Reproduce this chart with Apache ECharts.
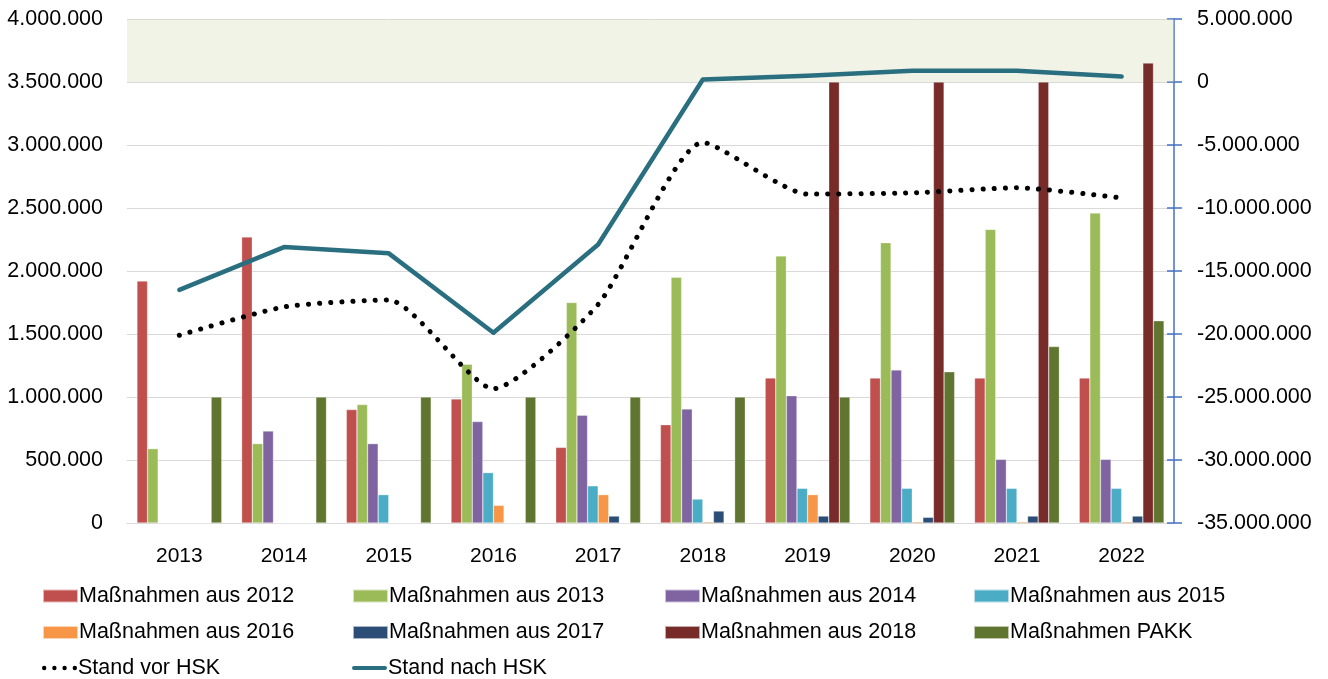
<!DOCTYPE html>
<html>
<head>
<meta charset="utf-8">
<script src="https://cdn.jsdelivr.net/npm/echarts@6/dist/echarts.min.js"></script>
<style>
  html, body { margin: 0; padding: 0; background: #fff; }
  #main { width: 1328px; height: 679px; }
</style>
</head>
<body>
<div id="main"></div>
<script>
var years = ['2013', '2014', '2015', '2016', '2017', '2018', '2019', '2020', '2021', '2022'];

var mass2012 = [1920000, 2270000, 900000, 985000, 600000, 780000, 1150000, 1150000, 1150000, 1150000];
var mass2013 = [590000, 630000, 940000, 1260000, 1750000, 1950000, 2120000, 2225000, 2330000, 2460000];
var mass2014 = [0, 730000, 630000, 805000, 855000, 905000, 1010000, 1215000, 505000, 505000];
var mass2015 = [0, 0, 225000, 400000, 295000, 190000, 275000, 275000, 275000, 275000];
var mass2016 = [0, 0, 0, 140000, 225000, 10000, 225000, 10000, 10000, 10000];
var mass2017 = [0, 0, 0, 0, 55000, 95000, 55000, 45000, 55000, 55000];
var mass2018 = [0, 0, 0, 0, 0, 0, 3500000, 3500000, 3500000, 3650000];
var massPakk = [1000000, 1000000, 1000000, 1000000, 1000000, 1000000, 1000000, 1200000, 1400000, 1605000];

var standVor = [-20100000, -17850000, -17300000, -24350000, -17650000, -4800000, -8900000, -8800000, -8400000, -9200000];
var standNach = [-16500000, -13100000, -13600000, -19900000, -12900000, 200000, 490000, 900000, 900000, 430000];

// shaded target band (left axis units)
var bandFrom = 3500000;
var bandTo = 4000000;

function fmt(v) {
    var s = String(Math.abs(v)).replace(/\B(?=(\d{3})+(?!\d))/g, '.');
    return (v < 0 ? '-' : '') + s;
}

var font = 'Liberation Sans';
var colors = ['#C0504D', '#9BBB59', '#8064A2', '#4BACC6', '#F79646', '#2C4D75', '#772C2A', '#5F7530', '#000000', '#2A6F7F'];

// legend icons for the two lines (first two moves fix the box to 35x13)
var dotIcon = 'path://M0,0 M35,13 ' +
    'M0,6.5 a2.2,2.2 0 1,0 4.4,0 a2.2,2.2 0 1,0 -4.4,0 Z ' +
    'M10.2,6.5 a2.2,2.2 0 1,0 4.4,0 a2.2,2.2 0 1,0 -4.4,0 Z ' +
    'M20.4,6.5 a2.2,2.2 0 1,0 4.4,0 a2.2,2.2 0 1,0 -4.4,0 Z ' +
    'M30.6,6.5 a2.2,2.2 0 1,0 4.4,0 a2.2,2.2 0 1,0 -4.4,0 Z';
var lineIcon = 'path://M0,0 M35,13 M2,4.5 L33,4.5 A2,2 0 0,1 33,8.5 L2,8.5 A2,2 0 0,1 2,4.5 Z';

function bar(name, data) {
    return {
        name: name,
        type: 'bar',
        barGap: 0,
        barCategoryGap: '19%',
        itemStyle: { borderColor: 'rgba(255,255,255,0.6)', borderWidth: 0.5 },
        data: data
    };
}

var legendText = { fontFamily: font, fontSize: 21.5, color: '#000', lineHeight: 22, padding: [0, 0, 0, -4] };
function legendCol(left, top, names) {
    return {
        orient: 'vertical',
        left: left,
        top: top,
        padding: 0,
        icon: 'rect',
        itemWidth: 35,
        itemHeight: 13,
        itemGap: 14.5,
        textStyle: legendText,
        data: names
    };
}

var dom = document.getElementById('main');
var myChart = echarts.init(dom);
var option = {
    color: colors,
    animation: false,
    grid: { left: 127, right: 154, top: 19, bottom: 156 },
    legend: [
        legendCol(42, 585, ['Maßnahmen aus 2012', 'Maßnahmen aus 2016']),
        legendCol(352, 585, ['Maßnahmen aus 2013', 'Maßnahmen aus 2017']),
        legendCol(664, 585, ['Maßnahmen aus 2014', 'Maßnahmen aus 2018']),
        legendCol(973, 585, ['Maßnahmen aus 2015', 'Maßnahmen PAKK']),
        legendCol(42, 657, [{ name: 'Stand vor HSK', icon: dotIcon }]),
        legendCol(352, 657, [{ name: 'Stand nach HSK', icon: lineIcon }])
    ],
    xAxis: {
        type: 'category',
        data: years,
        axisTick: { show: false },
        axisLine: { lineStyle: { color: '#D9D9D9', width: 1 } },
        axisLabel: { margin: 23, fontFamily: font, fontSize: 21, color: '#000' }
    },
    yAxis: [
        {
            type: 'value',
            min: 0,
            max: 4000000,
            interval: 500000,
            axisLine: { show: false },
            axisTick: { show: false },
            splitLine: { lineStyle: { color: '#D9D9D9', width: 1 } },
            axisLabel: { margin: 24, fontFamily: font, fontSize: 21.5, color: '#000', formatter: fmt }
        },
        {
            type: 'value',
            position: 'right',
            min: -35000000,
            max: 5000000,
            interval: 5000000,
            axisLine: { show: true, lineStyle: { color: '#4472C4', width: 1.5 } },
            axisTick: { show: true, length: 8, lineStyle: { color: '#4472C4', width: 1.5 } },
            splitLine: { show: false },
            axisLabel: { margin: 23, fontFamily: font, fontSize: 21.5, color: '#000', formatter: fmt }
        },
        {
            type: 'value',
            position: 'right',
            min: -35000000,
            max: 5000000,
            interval: 5000000,
            axisLine: { show: false },
            axisTick: { show: true, inside: true, length: 7, lineStyle: { color: '#4472C4', width: 1.5 } },
            splitLine: { show: false },
            axisLabel: { show: false }
        }
    ],
    series: [
        bar('Maßnahmen aus 2012', mass2012),
        bar('Maßnahmen aus 2013', mass2013),
        bar('Maßnahmen aus 2014', mass2014),
        bar('Maßnahmen aus 2015', mass2015),
        bar('Maßnahmen aus 2016', mass2016),
        bar('Maßnahmen aus 2017', mass2017),
        bar('Maßnahmen aus 2018', mass2018),
        bar('Maßnahmen PAKK', massPakk),
        {
            name: 'Stand vor HSK',
            type: 'line',
            yAxisIndex: 1,
            symbol: 'none',
            smooth: 0.2,
            lineStyle: { color: '#000', width: 5, type: [0.1, 11], cap: 'round' },
            itemStyle: { color: '#000' },
            data: standVor
        },
        {
            name: 'Stand nach HSK',
            type: 'line',
            yAxisIndex: 1,
            symbol: 'none',
            lineStyle: { color: '#2A6F7F', width: 4.5, cap: 'round', join: 'round' },
            itemStyle: { color: '#2A6F7F' },
            data: standNach
        },
        {
            name: 'band',
            type: 'line',
            yAxisIndex: 0,
            z: 20,
            silent: true,
            symbol: 'none',
            data: [],
            markArea: {
                silent: true,
                itemStyle: { color: 'rgba(215,223,188,0.375)' },
                data: [[{ yAxis: bandFrom }, { yAxis: bandTo }]]
            }
        }
    ]
};
if (option && typeof option === "object") {
    myChart.setOption(option, true);
}
</script>
</body>
</html>
